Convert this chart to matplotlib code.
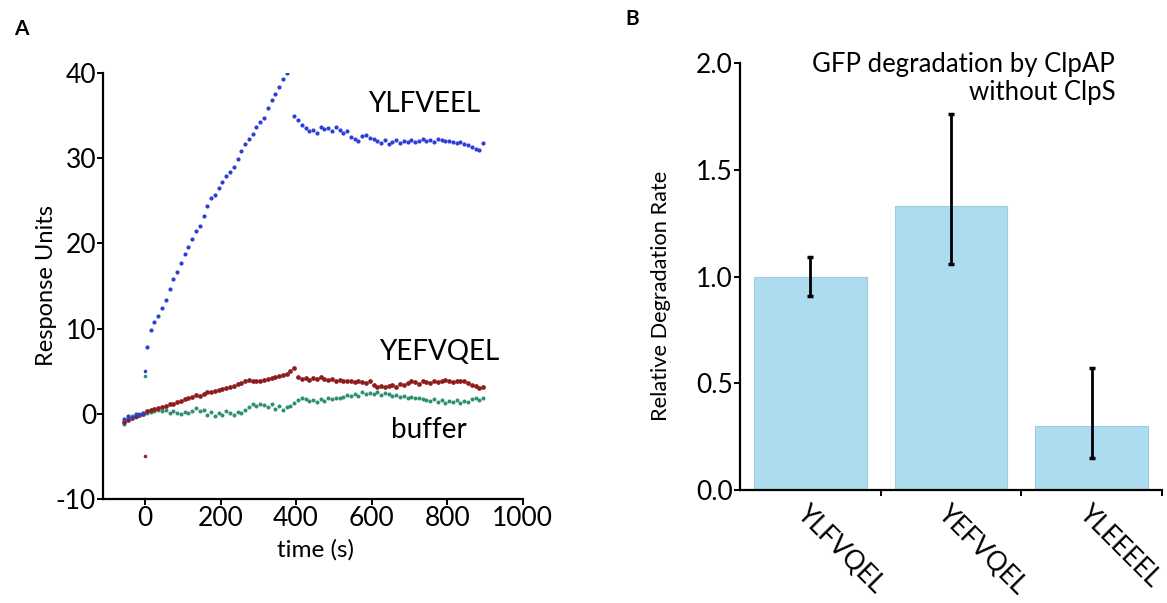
import numpy as np
import matplotlib.pyplot as plt

plt.rcParams['font.family'] = ['Lato', 'DejaVu Sans']
plt.rcParams['axes.unicode_minus'] = False

# sensorgram: time points (s), one reading every 10 s
time_s = np.arange(-55, 900, 10)

ylfveel = [-0.6, -0.3, -0.5, 0.0, -0.2, 0.1,
           7.8, 9.8, 10.8, 11.5, 12.4, 13.4, 14.6, 15.8, 16.6, 17.7,
           18.8, 19.6, 20.5, 21.4, 22.0, 23.2, 24.4, 25.3, 25.7, 26.5,
           27.2, 27.9, 28.4, 29.0, 29.9, 30.8, 31.7, 32.2, 32.8, 33.6,
           34.2, 34.7, 35.9, 36.8, 37.5, 38.4, 39.3, 40.0, np.nan, 35.0,
           34.5, 33.9, 33.5, 33.2, 33.3, 33.0, 33.6, 33.4, 33.5, 33.2,
           33.6, 33.3, 33.0, 33.2, 32.5, 32.3, 32.0, 32.6, 32.7, 32.4,
           32.2, 32.0, 31.8, 32.1, 31.7, 31.9, 32.1, 31.8, 32.0, 31.9,
           32.1, 31.9, 32.0, 32.2, 32.0, 32.1, 31.9, 32.2, 32.1, 32.0,
           32.0, 31.9, 31.8, 31.9, 31.7, 31.6, 31.3, 31.1, 31.0, 31.8]

yefvqel = [-1.0, -0.7, -0.5, -0.3, -0.2, 0.0,
           0.3, 0.4, 0.6, 0.7, 0.8, 0.9, 1.1, 1.2, 1.4, 1.5,
           1.7, 1.8, 2.0, 2.2, 2.1, 2.3, 2.6, 2.5, 2.7, 2.8,
           2.9, 3.0, 3.2, 3.3, 3.5, 3.6, 3.8, 4.0, 3.8, 3.9,
           3.9, 4.0, 4.1, 4.2, 4.3, 4.4, 4.5, 4.7, 5.0, 5.4,
           4.3, 4.1, 4.2, 4.0, 4.2, 4.1, 4.3, 4.1, 4.0, 4.1,
           3.9, 4.0, 3.8, 3.9, 3.8, 3.7, 3.9, 3.7, 3.6, 3.8,
           3.4, 3.2, 3.3, 3.1, 3.3, 3.4, 3.2, 3.5, 3.4, 3.6,
           3.8, 3.7, 3.5, 3.8, 3.7, 3.6, 3.9, 3.7, 3.8, 4.0,
           3.9, 3.7, 3.8, 3.9, 3.8, 3.6, 3.4, 3.3, 3.0, 3.2]

buffer_ru = [-1.2, -0.5, -0.3, -0.4, 0.0, 0.1,
             0.1, 0.2, 0.3, 0.4, 0.3, 0.5, 0.1, 0.3, 0.1, 0.0,
             0.2, 0.1, 0.3, 0.7, 0.3, 0.5, -0.1, 0.2, -0.3, 0.1,
             -0.1, 0.3, 0.1, -0.1, 0.2, 0.1, 0.4, 0.8, 1.1, 0.9,
             1.2, 1.0, 0.8, 1.1, 0.6, 0.9, 0.5, 0.8, 0.9, 1.3,
             1.6, 1.9, 1.7, 1.5, 1.6, 1.4, 1.7, 1.5, 1.8, 1.7,
             1.9, 1.8, 2.0, 2.2, 2.1, 2.3, 2.1, 2.5, 2.3, 2.4,
             2.3, 2.5, 2.2, 2.4, 2.3, 2.1, 2.2, 2.0, 2.1, 1.9,
             2.0, 1.8, 1.9, 1.7, 1.6, 1.5, 1.7, 1.4, 1.6, 1.3,
             1.5, 1.4, 1.6, 1.3, 1.5, 1.4, 1.7, 1.8, 1.6, 1.9]

# injection spikes at t = 0
spike_t = [0, 0, 0, 0]
spike_ru = [-10.0, 5.0, -5.0, 4.4]
spike_colors = ['#2b3fd6', '#2b3fd6', '#a02020', '#2e9070']

# degradation rates
peptides = ['YLFVQEL', 'YEFVQEL', 'YLEEEEL']
rel_rate = [1.00, 1.33, 0.30]
err_low = [0.09, 0.27, 0.15]
err_high = [0.09, 0.43, 0.27]

fig = plt.figure(figsize=(11.67, 6.03), dpi=100)

# ---- panel A ----
ax1 = fig.add_axes([0.0883, 0.1725, 0.3597, 0.7065])
ax1.plot(time_s, buffer_ru, 'o', ms=2.9, mew=0, color='#2e9070')
ax1.plot(time_s, yefvqel, 'o', ms=3.4, mew=0, color='#8e1c1c')
ax1.plot(time_s, ylfveel, 'o', ms=3.0, mew=0, color='#2b3fd6')
for t, v, c in zip(spike_t, spike_ru, spike_colors):
    ax1.plot(t, v, 'o', ms=2.6, mew=0, color=c)

ax1.set_xlim(-111, 1000)
ax1.set_ylim(-10, 40)
ax1.set_xticks([0, 200, 400, 600, 800, 1000])
ax1.set_yticks([-10, 0, 10, 20, 30, 40])
ax1.set_xlabel('time (s)', fontsize=17.5)
ax1.xaxis.set_label_coords(0.507, -0.095)
ax1.set_ylabel('Response Units', fontsize=17)
ax1.yaxis.set_label_coords(-0.11, 0.5)
ax1.text(590, 36.4, 'YLFVEEL', fontsize=20, va='center', ha='left')
ax1.text(619, 7.3, 'YEFVQEL', fontsize=20, va='center', ha='left')
ax1.text(651, -1.9, 'buffer', fontsize=20, va='center', ha='left')

# ---- panel B ----
ax2 = fig.add_axes([0.634, 0.1874, 0.3617, 0.708])
x = np.arange(len(peptides))
ax2.bar(x, rel_rate, width=0.8, color='#acdcee', edgecolor='#9ccbe2', lw=0.8)
ax2.errorbar(x, rel_rate, yerr=[err_low, err_high], fmt='none',
             ecolor='black', elinewidth=2, capsize=2.5, capthick=2.5)
ax2.set_xlim(-0.5, 2.5)
ax2.set_ylim(0, 2.0)
ax2.set_yticks([0.0, 0.5, 1.0, 1.5, 2.0])
ax2.set_yticklabels(['0.0', '0.5', '1.0', '1.5', '2.0'])
ax2.set_xticks([0.5, 1.5, 2.5])
ax2.set_xticklabels([])
ax2.set_xticks(x, minor=True)
ax2.set_xticklabels(peptides, minor=True, rotation=-45, ha='left', va='top',
                    rotation_mode='anchor', fontsize=19)
ax2.tick_params(axis='x', which='minor', length=0, pad=8)
ax2.set_ylabel('Relative Degradation Rate', fontsize=15.7)
ax2.yaxis.set_label_coords(-0.162, 0.455)
ax2.text(0.889, 0.963, 'GFP degradation by ClpAP\nwithout ClpS',
         transform=ax2.transAxes, ha='right', va='center',
         multialignment='right', fontsize=18.5, linespacing=1.15)

for ax in (ax1, ax2):
    for s in ('top', 'right'):
        ax.spines[s].set_visible(False)
    for s in ('left', 'bottom'):
        ax.spines[s].set_linewidth(1.6)
    ax.tick_params(which='major', length=4, width=1.4, labelsize=19, pad=1)

fig.text(0.012, 0.942, 'A', fontsize=15, fontweight='bold')
fig.text(0.536, 0.958, 'B', fontsize=15, fontweight='bold')

fig.savefig('out.png', dpi=100)
